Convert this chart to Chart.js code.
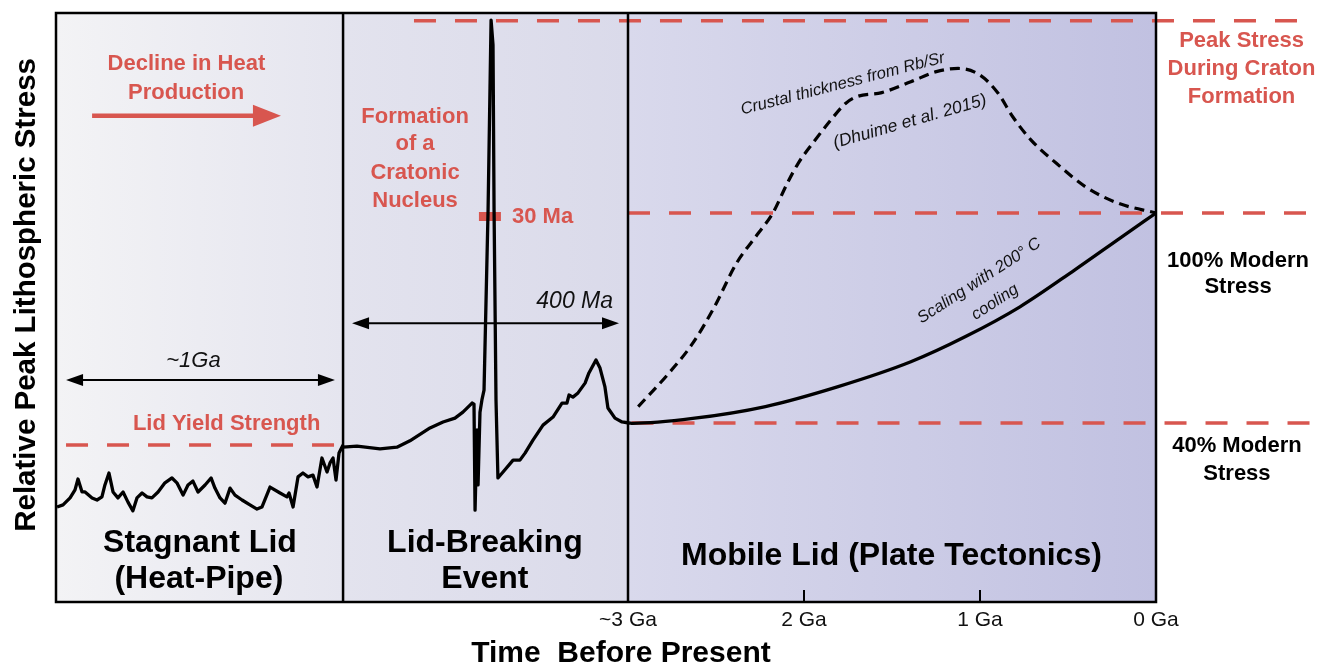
<!DOCTYPE html>
<html>
<head>
<meta charset="utf-8">
<title>Relative peak lithospheric stress through time</title>
<script src="https://cdn.jsdelivr.net/npm/chart.js@4.4.1/dist/chart.umd.min.js"></script>
<style>
    html, body { margin: 0; padding: 0; background: #fff; }
    #wrap { width: 1319px; height: 663px; position: relative; }
</style>
</head>
<body>
<div id="wrap"><canvas id="chart"></canvas></div>
<script>
// x: time before present in Ga (schematic before ~3 Ga), y: peak stress in % of modern
const tickValues = [3, 2, 1, 0]
const tickLabels = ['~3 Ga', '2 Ga', '1 Ga', '0 Ga']
const panelEdges = [6.25, 4.619, 3.0, 0]

// stagnant lid (heat-pipe) wiggles
const lidX = [6.244, 6.210, 6.170, 6.142, 6.125, 6.102, 6.085, 6.045, 6.017, 5.989, 5.972, 5.949, 5.926, 5.898, 5.869,
    5.841, 5.813, 5.790, 5.761, 5.733, 5.705, 5.670, 5.631, 5.591, 5.563, 5.528, 5.500, 5.472, 5.443, 5.403, 5.369,
    5.347, 5.318, 5.290, 5.261, 5.233, 5.193, 5.148, 5.108, 5.080, 5.034, 4.977, 4.938, 4.926, 4.903, 4.875, 4.847,
    4.818, 4.790, 4.767, 4.739, 4.710, 4.693, 4.676, 4.659, 4.642, 4.619]
const lidY = [16.0, 16.6, 18.6, 20.9, 24.0, 20.3, 20.3, 18.6, 18.0, 18.9, 22.3, 25.7, 20.3, 18.6, 20.3,
    17.4, 14.9, 18.6, 20.0, 18.9, 18.6, 20.3, 22.9, 24.3, 22.9, 19.4, 22.3, 23.4, 20.3, 22.3, 24.3,
    21.4, 18.6, 17.1, 21.4, 19.4, 18.0, 16.6, 15.4, 16.0, 21.7, 20.0, 18.9, 20.0, 16.0, 24.6, 25.7,
    24.6, 25.1, 21.7, 30.0, 26.0, 28.6, 30.0, 23.7, 31.4, 33.7]

// lid-breaking event
const breakX = [4.619, 4.540, 4.409, 4.313, 4.239, 4.125, 4.051, 3.983, 3.938, 3.886, 3.875, 3.869, 3.858, 3.852, 3.841,
    3.830, 3.818, 3.795, 3.778, 3.767, 3.761, 3.750, 3.739, 3.710, 3.653, 3.614, 3.585, 3.540, 3.483, 3.426, 3.375,
    3.347, 3.335, 3.313, 3.284, 3.244, 3.222, 3.182, 3.159, 3.131, 3.114, 3.074, 3.034, 2.994]
const breakY = [33.1, 33.4, 32.6, 33.1, 34.9, 38.6, 40.3, 41.4, 43.1, 45.7, 45.4, 15.1, 38.0, 22.3, 43.1,
    46.6, 49.4, 100.9, 155.1, 148.0, 100.9, 46.6, 24.3, 26.0, 29.4, 29.4, 31.4, 35.1, 39.4, 41.7, 45.7,
    45.7, 48.0, 47.4, 48.6, 51.4, 54.3, 58.0, 55.7, 50.3, 44.3, 41.4, 40.3, 40.0]

// scaling with 200 C cooling
const coolX = [2.994, 2.973, 2.632, 2.219, 1.806, 1.393, 1.082, 0.773, 0.463, 0.194, 0]
const coolY = [40.0, 39.9, 41.3, 44.7, 50.4, 57.5, 64.7, 73.2, 83.7, 93.2, 100]

// crustal thickness from Rb/Sr (Dhuime et al. 2015)
const crustX = [2.942, 2.777, 2.632, 2.509, 2.384, 2.260, 2.178, 2.095, 2.033, 1.951, 1.847, 1.764, 1.702,
    1.558, 1.393, 1.248, 1.124, 1.000, 0.897, 0.814, 0.711, 0.566, 0.401, 0.215, 0]
const crustY = [44.7, 53.7, 62.8, 73.2, 85.6, 94.2, 99.9, 108.5, 114.2, 119.9, 126.6, 131.3, 133.2,
    134.4, 137.5, 140.4, 141.3, 139.4, 134.2, 127.5, 120.9, 114.2, 107.5, 102.8, 100]

// reference levels: lid yield strength, peak stress, 100% modern, 40% modern
const refY = [33.7, 154.9, 100, 40]
const refFrom = [6.193, 4.216, 3.0, 2.98]
const refTo = [4.648, -0.875, -0.875, -0.875]

// 30 Ma duration marker
const markX = [3.847, 3.722]
const markY = [99.0, 99.0]

const RED = '#d8564f'
const FONT = '"Liberation Sans", Arial, Helvetica, sans-serif'
const panelColors = [['#f3f3f5', '#e5e5ef'], ['#e3e3ee', '#dadaea'], ['#d9d9ec', '#c1c1e1']]

function pts(xs, ys) {
    return xs.map((x, i) => ({x: x, y: ys[i]}))
}

const notes = [
    {text: 'Decline in Heat', x: 5.509, y: 140.9, font: 'bold 22px ' + FONT, color: RED},
    {text: 'Production', x: 5.511, y: 132.6, font: 'bold 22px ' + FONT, color: RED},
    {text: 'Formation', x: 4.210, y: 125.7, font: 'bold 22px ' + FONT, color: RED},
    {text: 'of a', x: 4.210, y: 118.0, font: 'bold 22px ' + FONT, color: RED},
    {text: 'Cratonic', x: 4.210, y: 109.7, font: 'bold 22px ' + FONT, color: RED},
    {text: 'Nucleus', x: 4.210, y: 101.7, font: 'bold 22px ' + FONT, color: RED},
    {text: '30 Ma', x: 3.659, y: 97.1, font: 'bold 22px ' + FONT, color: RED, align: 'left'},
    {text: '400 Ma', x: 3.085, y: 72.9, font: 'italic 23px ' + FONT, color: '#111', align: 'right'},
    {text: '~1Ga', x: 5.469, y: 56.0, font: 'italic 22px ' + FONT, color: '#111'},
    {text: 'Lid Yield Strength', x: 5.813, y: 38.0, font: 'bold 22px ' + FONT, color: RED, align: 'left'},
    {text: 'Stagnant Lid', x: 5.432, y: 3.14, font: 'bold 32px ' + FONT, color: '#000'},
    {text: '(Heat-Pipe)', x: 5.438, y: -7.14, font: 'bold 32px ' + FONT, color: '#000'},
    {text: 'Lid-Breaking', x: 3.813, y: 3.14, font: 'bold 32px ' + FONT, color: '#000'},
    {text: 'Event', x: 3.813, y: -7.14, font: 'bold 32px ' + FONT, color: '#000'},
    {text: 'Mobile Lid (Plate Tectonics)', x: 1.503, y: -0.57, font: 'bold 32px ' + FONT, color: '#000'},
    {text: 'Peak Stress', x: -0.486, y: 147.4, font: 'bold 22px ' + FONT, color: RED},
    {text: 'During Craton', x: -0.486, y: 139.4, font: 'bold 22px ' + FONT, color: RED},
    {text: 'Formation', x: -0.486, y: 131.4, font: 'bold 22px ' + FONT, color: RED},
    {text: '100% Modern', x: -0.466, y: 84.6, font: 'bold 22px ' + FONT, color: '#000'},
    {text: 'Stress', x: -0.466, y: 77.1, font: 'bold 22px ' + FONT, color: '#000'},
    {text: '40% Modern', x: -0.460, y: 31.7, font: 'bold 22px ' + FONT, color: '#000'},
    {text: 'Stress', x: -0.460, y: 23.7, font: 'bold 22px ' + FONT, color: '#000'},
    {text: 'Crustal thickness from Rb/Sr', x: 1.780, y: 136.9, font: 'italic 16.5px ' + FONT, color: '#111', angle: -14.5, base: 'middle'},
    {text: '(Dhuime et al. 2015)', x: 1.398, y: 126.1, font: 'italic 17.5px ' + FONT, color: '#111', angle: -16, base: 'middle'},
    {text: 'Scaling with 200\u00b0 C', x: 1.005, y: 80.6, font: 'italic 16.5px ' + FONT, color: '#111', angle: -33, base: 'middle'},
    {text: 'cooling', x: 0.915, y: 74.5, font: 'italic 16.5px ' + FONT, color: '#111', angle: -33, base: 'middle'},
    {text: 'Relative Peak Lithospheric Stress', x: 6.369, y: 76.6, font: 'bold 29.5px ' + FONT, color: '#000', angle: -90},
    {text: 'Time  Before Present', x: 3.040, y: -28.3, font: 'bold 30px ' + FONT, color: '#000'}
]

const arrows = [
    {from: 6.045, to: 4.972, y: 127.8, color: RED, width: 4.5, head: 28, half: 11, both: false},
    {from: 6.193, to: 4.665, y: 52.3, color: '#000', width: 2, head: 17, half: 6, both: true},
    {from: 4.568, to: 3.051, y: 68.5, color: '#000', width: 2, head: 17, half: 6, both: true}
]

function arrowHead(ctx, tipX, baseX, y, half) {
    ctx.beginPath()
    ctx.moveTo(tipX, y)
    ctx.lineTo(baseX, y - half)
    ctx.lineTo(baseX, y + half)
    ctx.closePath()
    ctx.fill()
}

const drawing = {
    id: 'drawing',
    beforeDatasetsDraw(chart) {
        const {ctx, chartArea: a, scales: {x}} = chart
        ctx.save()
        for (let i = 0; i < panelEdges.length - 1; i++) {
            const x0 = x.getPixelForValue(panelEdges[i])
            const x1 = x.getPixelForValue(panelEdges[i + 1])
            const g = ctx.createLinearGradient(x0, 0, x1, 0)
            g.addColorStop(0, panelColors[i][0])
            g.addColorStop(1, panelColors[i][1])
            ctx.fillStyle = g
            ctx.fillRect(x0, a.top, x1 - x0, a.bottom - a.top)
        }
        ctx.restore()
    },
    afterDatasetsDraw(chart) {
        const {ctx, chartArea: a, scales: {x, y}} = chart
        ctx.save()
        // frame and panel separators
        ctx.strokeStyle = '#000'
        ctx.lineWidth = 2.5
        ctx.strokeRect(a.left, a.top, a.right - a.left, a.bottom - a.top)
        for (let i = 1; i < panelEdges.length - 1; i++) {
            const px = x.getPixelForValue(panelEdges[i])
            ctx.beginPath()
            ctx.moveTo(px, a.top)
            ctx.lineTo(px, a.bottom)
            ctx.stroke()
        }
        // inner tick marks
        ctx.lineWidth = 2
        tickValues.slice(1, -1).forEach(v => {
            const px = x.getPixelForValue(v)
            ctx.beginPath()
            ctx.moveTo(px, a.bottom)
            ctx.lineTo(px, a.bottom - 12)
            ctx.stroke()
        })
        // arrows
        arrows.forEach(ar => {
            const x0 = x.getPixelForValue(ar.from)
            const x1 = x.getPixelForValue(ar.to)
            const py = y.getPixelForValue(ar.y)
            ctx.strokeStyle = ar.color
            ctx.fillStyle = ar.color
            ctx.lineWidth = ar.width
            ctx.beginPath()
            ctx.moveTo(ar.both ? x0 + ar.head - 1 : x0, py)
            ctx.lineTo(x1 - ar.head + 1, py)
            ctx.stroke()
            arrowHead(ctx, x1, x1 - ar.head, py, ar.half)
            if (ar.both) arrowHead(ctx, x0, x0 + ar.head, py, ar.half)
        })
        // text notes
        notes.forEach(n => {
            ctx.save()
            ctx.font = n.font
            ctx.fillStyle = n.color
            ctx.textAlign = n.align || 'center'
            ctx.textBaseline = n.base || 'alphabetic'
            ctx.translate(x.getPixelForValue(n.x), y.getPixelForValue(n.y))
            if (n.angle) ctx.rotate(n.angle * Math.PI / 180)
            ctx.fillText(n.text, 0, 0)
            ctx.restore()
        })
        ctx.restore()
    }
}

const refLine = (i) => ({
    label: 'ref' + i,
    data: pts([refFrom[i], refTo[i]], [refY[i], refY[i]]),
    borderColor: RED,
    borderWidth: 3.5,
    borderDash: [22, 19],
    borderCapStyle: 'butt',
    clip: false,
    order: 5
})

const datasets = [
    {label: 'stagnant lid', data: pts(lidX, lidY), borderColor: '#000', borderWidth: 3.3, borderJoinStyle: 'round', tension: 0, order: 1},
    {label: 'lid breaking', data: pts(breakX, breakY), borderColor: '#000', borderWidth: 3.3, borderJoinStyle: 'round', tension: 0, order: 1},
    {label: 'cooling', data: pts(coolX, coolY), borderColor: '#000', borderWidth: 3.3, cubicInterpolationMode: 'monotone', order: 1},
    {label: 'crustal thickness', data: pts(crustX, crustY), borderColor: '#000', borderWidth: 3.2, borderDash: [10, 6],
        cubicInterpolationMode: 'monotone', order: 2},
    {label: '30 Ma', data: pts(markX, markY), borderColor: RED, borderWidth: 9, borderCapStyle: 'butt', order: 3},
    refLine(0), refLine(1), refLine(2), refLine(3)
]

new Chart(document.getElementById('chart'), {
    type: 'line',
    data: {datasets: datasets},
    options: {
        responsive: true,
        maintainAspectRatio: false,
        animation: false,
        layout: {padding: {left: 56, top: 13, right: 163, bottom: 0}},
        plugins: {legend: {display: false}, tooltip: {enabled: false}},
        elements: {point: {radius: 0}, line: {fill: false}},
        scales: {
            x: {
                type: 'linear',
                reverse: true,
                min: 0,
                max: 6.25,
                grid: {display: false, drawTicks: false},
                border: {display: false},
                afterBuildTicks: s => { s.ticks = tickValues.map(v => ({value: v})) },
                afterFit: s => { s.height = 61 },
                ticks: {
                    autoSkip: false,
                    maxRotation: 0,
                    padding: 6,
                    color: '#111',
                    font: {family: FONT, size: 21},
                    callback: (v, i) => tickLabels[i]
                }
            },
            y: {display: false, min: -11.14, max: 157.14}
        }
    },
    plugins: [drawing]
})
</script>
</body>
</html>
